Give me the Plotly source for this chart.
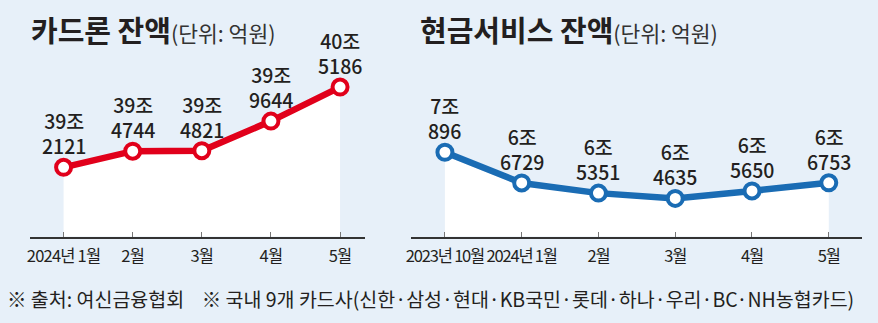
import plotly.graph_objects as go

# ---- data ----
loan_months = ["2024년 1월", "2월", "3월", "4월", "5월"]
loan_values = [392121, 394744, 394821, 399644, 405186]  # 억원

cash_months = ["2023년 10월", "2024년 1월", "2월", "3월", "4월", "5월"]
cash_values = [70896, 66729, 65351, 64635, 65650, 66753]  # 억원

loan_title = "카드론 잔액"
cash_title = "현금서비스 잔액"
unit_text = "(단위: 억원)"
footer_text = "※ 출처: 여신금융협회    ※ 국내 9개 카드사(신한·삼성·현대·KB국민·롯데·하나·우리·BC·NH농협카드)"

W, H = 878, 323
BG = "#e7f0f9"
RED = "#e1001b"
BLUE = "#1a6cb4"
FONT = "Noto Sans CJK KR"
TXT = "#231f20"


def fmt(v):
    jo, rest = divmod(v, 10000)
    return f"{jo}조<br>{rest}"


def squeeze(s, px):
    return f"<span style='letter-spacing:{px}px'>{s}</span>"


fig = go.Figure()
ticks = {}

for months, values, color, xa, ya, ls in [
    (loan_months, loan_values, RED, "x", "y", -0.8),
    (cash_months, cash_values, BLUE, "x2", "y2", -1.2),
]:
    xs = list(range(len(months)))
    ticks[xa] = (xs, [squeeze(m, ls) for m in months])
    fig.add_trace(go.Scatter(
        x=xs, y=values, xaxis=xa, yaxis=ya,
        mode="lines+markers",
        fill="tozeroy", fillcolor="white",
        line=dict(color=color, width=6.5),
        marker=dict(size=15, color="white", line=dict(color=color, width=4)),
        cliponaxis=False, hoverinfo="skip", showlegend=False,
    ))
    for xi, v in zip(xs, values):
        fig.add_annotation(
            x=xi, y=v, xref=xa, yref=ya, text=fmt(v), showarrow=False,
            yshift=34, xanchor="center", yanchor="middle", borderpad=0,
            font=dict(family=FONT, size=19.5, color=TXT, weight=500),
        )

# titles
for x0, title in [(24, loan_title), (415, cash_title)]:
    fig.add_annotation(
        x=x0 / W, y=1 - 29 / H, xref="paper", yref="paper",
        xanchor="left", yanchor="middle", align="left", showarrow=False,
        text=f"<b>{title}</b><span style='font-size:21.5px;font-weight:400;color:#333'>{unit_text}</span>",
        font=dict(family=FONT, size=29, color=TXT),
    )

# footer
fig.add_annotation(
    x=0.5 / W, y=1 - 298 / H, xref="paper", yref="paper",
    xanchor="left", yanchor="middle", align="left", showarrow=False,
    text=footer_text, font=dict(family=FONT, size=19.5, color=TXT),
)

y_bottom = 1 - 236.5 / H
y_top = 1 - 60 / H

axis_common = dict(
    showgrid=False, zeroline=False, showline=True,
    linecolor="#333", linewidth=1.5, ticks="inside", ticklen=5,
    tickcolor="#777", tickwidth=1, tickangle=0, ticklabelstandoff=4,
    tickfont=dict(family=FONT, size=16.5, color=TXT),
    fixedrange=True,
)
yaxis_common = dict(visible=False, showgrid=False, zeroline=False, fixedrange=True)

fig.update_layout(
    width=W, height=H,
    margin=dict(l=0, r=0, t=0, b=0),
    paper_bgcolor=BG, plot_bgcolor="rgba(0,0,0,0)",
    yaxis=dict(domain=[y_bottom, y_top], range=[380852, 409596], **yaxis_common),
    yaxis2=dict(domain=[y_bottom, y_top], range=[59463, 83418], **yaxis_common),
    xaxis=dict(domain=[25 / W, 362 / W], range=[-0.488, 4.36], anchor="y",
               tickvals=ticks["x"][0], ticktext=ticks["x"][1], **axis_common),
    xaxis2=dict(domain=[408 / W, 862 / W], range=[-0.446, 5.434], anchor="y2",
                tickvals=ticks["x2"][0], ticktext=ticks["x2"][1], **axis_common),
)

fig.write_html("out.html")
